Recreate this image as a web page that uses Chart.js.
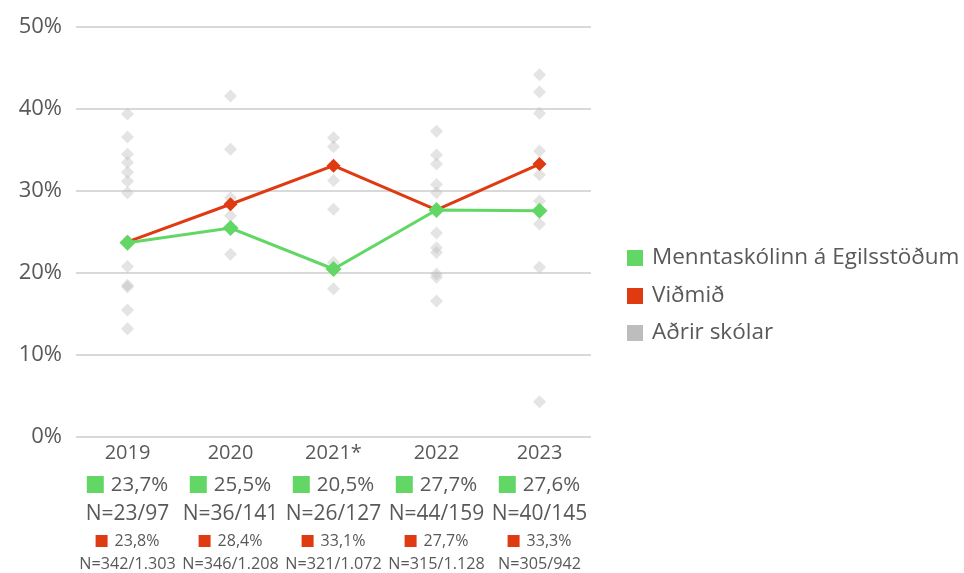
<!DOCTYPE html>
<html>
<head>
<meta charset="utf-8">
<script src="https://cdn.jsdelivr.net/npm/chart.js@4.4.0/dist/chart.umd.min.js"></script>
<style>
  html, body { margin: 0; padding: 0; background: #fff; }
  #wrap { width: 964px; height: 573px; position: relative; }
</style>
</head>
<body>
<div id="wrap"><canvas id="chart"></canvas></div>
<script>
const years = ['2019', '2020', '2021*', '2022', '2023'];
const schoolValues = [23.7, 25.5, 20.5, 27.7, 27.6];
const schoolN = ['N=23/97', 'N=36/141', 'N=26/127', 'N=44/159', 'N=40/145'];
const refValues = [23.8, 28.4, 33.1, 27.7, 33.3];
const refN = ['N=342/1.303', 'N=346/1.208', 'N=321/1.072', 'N=315/1.128', 'N=305/942'];
const otherSchools = [
    [39.4, 36.6, 34.5, 33.5, 32.3, 31.2, 29.8, 20.8, 18.5, 18.3, 15.5, 13.2],
    [41.6, 35.1, 29.2, 27.0, 22.3],
    [36.5, 35.4, 31.3, 27.8, 21.3, 18.1],
    [37.3, 34.4, 33.3, 30.8, 29.8, 24.9, 23.1, 22.5, 19.9, 19.5, 16.6],
    [44.2, 42.1, 39.5, 34.9, 32.0, 28.8, 26.0, 20.7, 4.3]
];
const yTicks = [0, 10, 20, 30, 40, 50];

const seriesNames = ['Menntaskólinn á Egilsstöðum', 'Viðmið', 'Aðrir skólar'];
const green = '#63d765';
const red = '#df3a12';
const grey = '#bdbdbd';
const textColor = '#595959';
const font = "'Open Sans', sans-serif";

const otherPoints = [];
otherSchools.forEach((vals, i) => {
    vals.forEach(v => otherPoints.push({ x: years[i], y: v }));
});

const pct = v => v.toFixed(1).replace('.', ',') + '%';

// draws the value rows under the axis and the legend on the right
const tablePlugin = {
    id: 'tableRows',
    afterDraw(chart) {
        const ctx = chart.ctx;
        const x = chart.scales.x;
        ctx.save();
        ctx.fillStyle = textColor;
        ctx.textBaseline = 'middle';
        years.forEach((year, i) => {
            const cx = x.getPixelForValue(i);

            ctx.font = `20px ${font}`;
            ctx.textAlign = 'center';
            ctx.fillStyle = textColor;
            ctx.fillText(year, cx, 453);

            // green value row
            ctx.font = `20.5px ${font}`;
            let t = pct(schoolValues[i]);
            let w = ctx.measureText(t).width;
            let total = 17 + 7 + w;
            let left = cx - total / 2;
            ctx.fillStyle = green;
            ctx.fillRect(left, 476, 17, 17);
            ctx.fillStyle = textColor;
            ctx.textAlign = 'left';
            ctx.fillText(t, left + 24, 485);

            ctx.textAlign = 'center';
            ctx.font = `21px ${font}`;
            ctx.fillText(schoolN[i], cx, 514);

            // reference value row
            ctx.font = `16px ${font}`;
            t = pct(refValues[i]);
            w = ctx.measureText(t).width;
            total = 12 + 7 + w;
            left = cx - total / 2;
            ctx.fillStyle = red;
            ctx.fillRect(left, 535, 12, 12);
            ctx.fillStyle = textColor;
            ctx.textAlign = 'left';
            ctx.fillText(t, left + 19, 541);

            ctx.textAlign = 'center';
            ctx.font = `16.2px ${font}`;
            ctx.fillText(refN[i], cx, 564);
        });

        // legend
        const legendColors = [green, red, grey];
        const legendY = [258, 296, 333];
        ctx.font = `22.5px ${font}`;
        ctx.textAlign = 'left';
        seriesNames.forEach((name, i) => {
            ctx.fillStyle = legendColors[i];
            ctx.fillRect(627, legendY[i] - 8, 16, 16);
            ctx.fillStyle = textColor;
            ctx.fillText(name, 652, legendY[i]);
        });
        ctx.restore();
    }
};

new Chart(document.getElementById('chart'), {
    type: 'line',
    data: {
        labels: years,
        datasets: [
            {
                label: seriesNames[0],
                data: schoolValues,
                borderColor: green,
                backgroundColor: green,
                borderWidth: 3,
                pointStyle: 'rectRot',
                pointRadius: 8,
                pointBorderWidth: 0
            },
            {
                label: seriesNames[1],
                data: refValues,
                borderColor: red,
                backgroundColor: red,
                borderWidth: 3,
                pointStyle: 'rectRot',
                pointRadius: 7,
                pointBorderWidth: 0
            },
            {
                label: seriesNames[2],
                data: otherPoints,
                showLine: false,
                backgroundColor: 'rgba(190,190,190,0.42)',
                borderColor: 'rgba(0,0,0,0)',
                pointStyle: 'rectRot',
                pointRadius: 6.5,
                pointBorderWidth: 0
            }
        ]
    },
    options: {
        responsive: true,
        maintainAspectRatio: false,
        animation: false,
        layout: { padding: { top: 25, right: 373, bottom: 136, left: 0 } },
        plugins: { legend: { display: false }, tooltip: { enabled: false } },
        scales: {
            x: {
                type: 'category',
                display: false,
                offset: true
            },
            y: {
                min: 0,
                max: 50,
                afterFit: scale => { scale.width = 76; },
                afterBuildTicks: scale => { scale.ticks = yTicks.map(v => ({ value: v })); },
                border: { display: false },
                grid: { color: '#d9d9d9', lineWidth: 2, drawTicks: false },
                ticks: {
                    padding: 14,
                    color: textColor,
                    font: { family: font, size: 22 },
                    callback: v => v + '%'
                }
            }
        }
    },
    plugins: [tablePlugin]
});
</script>
</body>
</html>
